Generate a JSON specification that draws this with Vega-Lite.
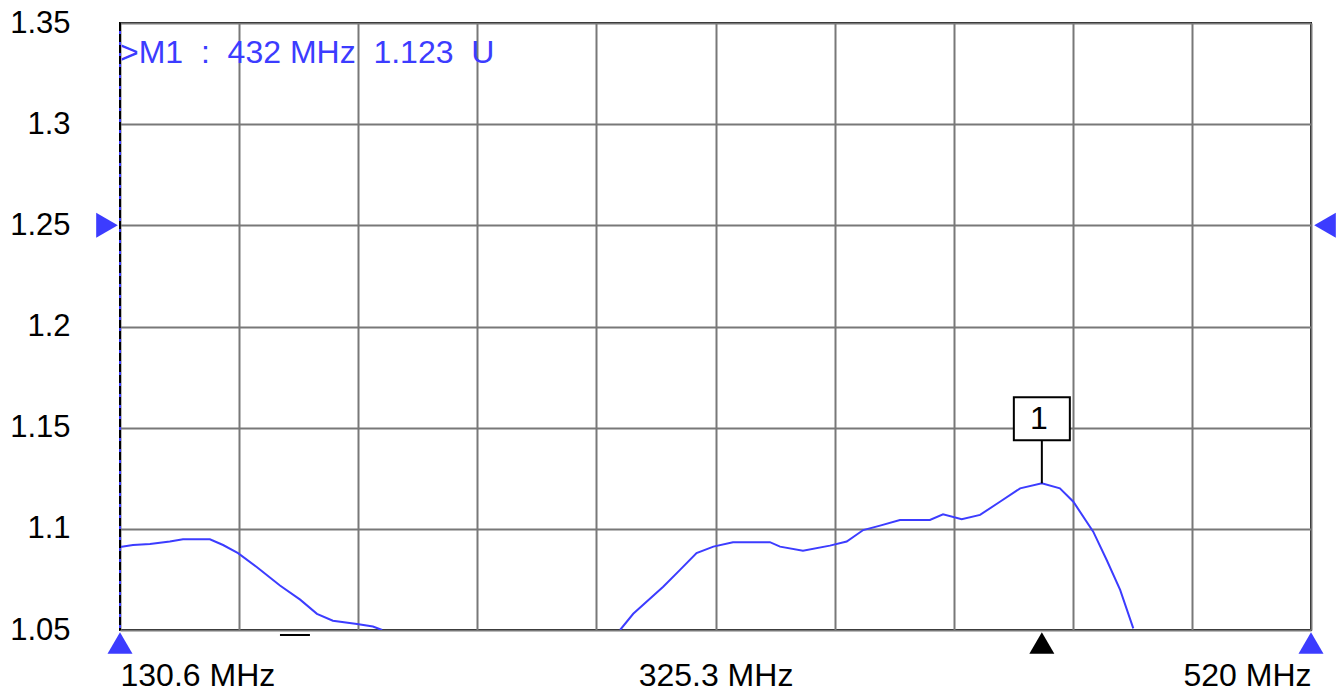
{
  "$schema": "https://vega.github.io/schema/vega-lite/v6.json",
  "width": 1191,
  "height": 607,
  "autosize": "none",
  "padding": {"left": 120, "top": 23, "right": 32, "bottom": 65},
  "background": "white",
  "config": {"view": {"stroke": "black", "strokeWidth": 2}, "font": "Liberation Sans"},
  "datasets": {
    "trace": [
      {"seg": 1, "f": 130.6, "v": 1.091},
      {"seg": 1, "f": 134.85, "v": 1.092},
      {"seg": 1, "f": 140.4, "v": 1.0925},
      {"seg": 1, "f": 146.9, "v": 1.0937},
      {"seg": 1, "f": 151.2, "v": 1.0948},
      {"seg": 1, "f": 160.0, "v": 1.0948},
      {"seg": 1, "f": 164.3, "v": 1.092},
      {"seg": 1, "f": 169.2, "v": 1.088},
      {"seg": 1, "f": 175.4, "v": 1.081},
      {"seg": 1, "f": 182.9, "v": 1.072},
      {"seg": 1, "f": 189.5, "v": 1.065},
      {"seg": 1, "f": 195.0, "v": 1.058},
      {"seg": 1, "f": 200.2, "v": 1.0546},
      {"seg": 1, "f": 208.1, "v": 1.053},
      {"seg": 1, "f": 213.3, "v": 1.0517},
      {"seg": 1, "f": 216.3, "v": 1.05},
      {"seg": 2, "f": 294.1, "v": 1.05},
      {"seg": 2, "f": 298.4, "v": 1.058},
      {"seg": 2, "f": 308.2, "v": 1.0714},
      {"seg": 2, "f": 313.7, "v": 1.0797},
      {"seg": 2, "f": 319.1, "v": 1.088},
      {"seg": 2, "f": 324.6, "v": 1.0912},
      {"seg": 2, "f": 331.0, "v": 1.0934},
      {"seg": 2, "f": 343.1, "v": 1.0934},
      {"seg": 2, "f": 346.4, "v": 1.0912},
      {"seg": 2, "f": 353.9, "v": 1.0892},
      {"seg": 2, "f": 362.7, "v": 1.0917},
      {"seg": 2, "f": 368.2, "v": 1.0937},
      {"seg": 2, "f": 373.6, "v": 1.0994},
      {"seg": 2, "f": 379.1, "v": 1.1016},
      {"seg": 2, "f": 385.6, "v": 1.1044},
      {"seg": 2, "f": 395.4, "v": 1.1044},
      {"seg": 2, "f": 399.7, "v": 1.1072},
      {"seg": 2, "f": 405.8, "v": 1.1047},
      {"seg": 2, "f": 411.8, "v": 1.1069},
      {"seg": 2, "f": 418.3, "v": 1.1134},
      {"seg": 2, "f": 424.9, "v": 1.12},
      {"seg": 2, "f": 432.0, "v": 1.1225},
      {"seg": 2, "f": 437.9, "v": 1.12},
      {"seg": 2, "f": 442.3, "v": 1.1134},
      {"seg": 2, "f": 448.8, "v": 1.0986},
      {"seg": 2, "f": 453.2, "v": 1.0846},
      {"seg": 2, "f": 457.6, "v": 1.0698},
      {"seg": 2, "f": 461.9, "v": 1.0508}
    ],
    "marker": [
      {"f": 432, "v": 1.1225, "base": 1.05, "label": "1", "readout": ">M1\u00a0\u00a0:\u00a0\u00a0432 MHz\u00a0\u00a01.123\u00a0\u00a0U"}
    ]
  },
  "layer": [
    {
      "data": {"name": "trace"},
      "mark": {"type": "line", "color": "#3c3cff", "strokeWidth": 2, "clip": true},
      "encoding": {
        "x": {
          "field": "f", "type": "quantitative",
          "scale": {"domain": [130.6, 520], "nice": false, "zero": false},
          "axis": {
            "title": null,
            "values": [130.6, 169.54, 208.48, 247.42, 286.36, 325.3, 364.24, 403.18, 442.12, 481.06, 520],
            "labelExpr": "indexof([130.6, 325.3, 520], datum.value) >= 0 ? datum.value + ' MHz' : ''",
            "labelFlush": true,
            "labelOverlap": false,
            "grid": true, "gridColor": "#787878", "gridWidth": 2, "gridOpacity": 1,
            "domain": false, "ticks": false, "tickSize": 0,
            "labelFontSize": 32, "labelColor": "black", "labelPadding": 30, "labelBaseline": "top"
          }
        },
        "y": {
          "field": "v", "type": "quantitative",
          "scale": {"domain": [1.05, 1.35], "nice": false, "zero": false},
          "axis": {
            "title": null,
            "values": [1.05, 1.1, 1.15, 1.2, 1.25, 1.3, 1.35],
            "format": ".2~f",
            "grid": true, "gridColor": "#787878", "gridWidth": 2, "gridOpacity": 1,
            "domain": false, "ticks": false, "tickSize": 0,
            "labelFontSize": 31, "labelColor": "black", "labelPadding": 50
          }
        },
        "detail": {"field": "seg", "type": "nominal"}
      }
    },
    {
      "data": {"values": [{"f": 130.6}]},
      "mark": {"type": "rule", "color": "#3c3cff", "strokeWidth": 2},
      "encoding": {"x": {"field": "f", "type": "quantitative"}}
    },
    {
      "data": {"values": [{"f": 130.6}]},
      "mark": {"type": "rule", "color": "black", "strokeWidth": 2, "strokeDash": [8, 3]},
      "encoding": {"x": {"field": "f", "type": "quantitative"}}
    },
    {
      "data": {"values": [{"f": 130.6, "v": 1.25}]},
      "mark": {"type": "point", "shape": "triangle-right", "filled": true, "color": "#3c3cff", "opacity": 1, "size": 625, "xOffset": -13},
      "encoding": {"x": {"field": "f", "type": "quantitative"}, "y": {"field": "v", "type": "quantitative"}}
    },
    {
      "data": {"values": [{"f": 520, "v": 1.25}]},
      "mark": {"type": "point", "shape": "triangle-left", "filled": true, "color": "#3c3cff", "opacity": 1, "size": 625, "xOffset": 14},
      "encoding": {"x": {"field": "f", "type": "quantitative"}, "y": {"field": "v", "type": "quantitative"}}
    },
    {
      "data": {"values": [{"f": 130.6, "v": 1.05}, {"f": 520, "v": 1.05}]},
      "mark": {"type": "point", "shape": "triangle-up", "filled": true, "color": "#3c3cff", "opacity": 1, "size": 625, "yOffset": 13},
      "encoding": {"x": {"field": "f", "type": "quantitative"}, "y": {"field": "v", "type": "quantitative"}}
    },
    {
      "data": {"name": "marker"},
      "mark": {"type": "point", "shape": "triangle-up", "filled": true, "color": "black", "opacity": 1, "size": 625, "yOffset": 13},
      "encoding": {"x": {"field": "f", "type": "quantitative"}, "y": {"field": "base", "type": "quantitative"}}
    },
    {
      "data": {"values": [{"f": 182.9, "f2": 192.7, "v": 1.05}]},
      "mark": {"type": "rule", "color": "black", "strokeWidth": 2, "yOffset": 5},
      "encoding": {"x": {"field": "f", "type": "quantitative"}, "x2": {"field": "f2"}, "y": {"field": "v", "type": "quantitative"}}
    },
    {
      "data": {"name": "marker"},
      "mark": {"type": "rule", "color": "black", "strokeWidth": 2, "y2Offset": -43},
      "encoding": {"x": {"field": "f", "type": "quantitative"}, "y": {"field": "v", "type": "quantitative"}, "y2": {"field": "v"}}
    },
    {
      "data": {"name": "marker"},
      "mark": {"type": "point", "shape": "M-1,-0.77L1,-0.77L1,0.77L-1,0.77Z", "size": 3136, "filled": true, "fill": "white", "stroke": "black", "strokeWidth": 2, "opacity": 1, "yOffset": -64.5},
      "encoding": {"x": {"field": "f", "type": "quantitative"}, "y": {"field": "v", "type": "quantitative"}}
    },
    {
      "data": {"name": "marker"},
      "mark": {"type": "text", "fontSize": 32, "color": "black", "align": "center", "baseline": "middle", "yOffset": -64, "dx": -3},
      "encoding": {"x": {"field": "f", "type": "quantitative"}, "y": {"field": "v", "type": "quantitative"}, "text": {"field": "label"}}
    },
    {
      "data": {"name": "marker"},
      "mark": {"type": "text", "fontSize": 32, "color": "#3c3cff", "align": "left", "baseline": "top", "dx": 0, "dy": 15},
      "encoding": {"x": {"datum": 130.6, "type": "quantitative"}, "y": {"datum": 1.35, "type": "quantitative"}, "text": {"field": "readout"}}
    }
  ]
}
